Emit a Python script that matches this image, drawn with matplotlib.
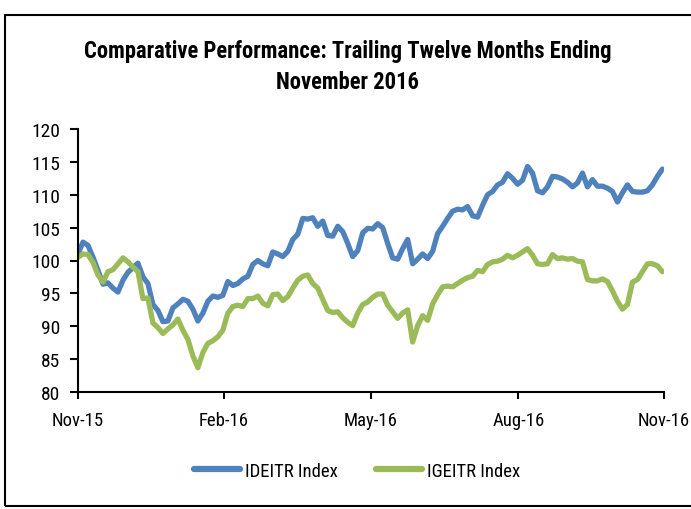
import matplotlib
matplotlib.use("Agg")
import matplotlib.pyplot as plt
from matplotlib import font_manager as fm
from matplotlib.patches import Rectangle
import pandas as pd

# ---------------- data ----------------
title = "Comparative Performance: Trailing Twelve Months Ending\nNovember 2016"
series_names = ["IDEITR Index", "IGEITR Index"]
start_date = "2015-11-30"
end_date = "2016-11-29"
tick_dates = ["2015-11-30", "2016-02-29", "2016-05-31", "2016-08-31", "2016-11-30"]
tick_labels = ["Nov-15", "Feb-16", "May-16", "Aug-16", "Nov-16"]
y_ticks = [80, 85, 90, 95, 100, 105, 110, 115, 120]

ideitr = [
    101.0, 102.8, 102.3, 100.5, 98.5, 96.4, 96.6, 95.8, 95.2, 97.0,
    98.2, 98.9, 99.6, 97.5, 96.5, 93.3, 92.4, 90.7, 90.8, 92.8,
    93.4, 94.1, 93.8, 92.6, 90.8, 92.0, 93.8, 94.6, 94.4, 94.7,
    96.8, 96.2, 96.5, 97.2, 97.6, 99.4, 100.0, 99.5, 99.2, 101.3,
    101.0, 100.6, 101.4, 103.2, 104.0, 106.4, 106.3, 106.5, 105.2, 106.0,
    103.8, 103.7, 105.2, 104.4, 102.6, 100.6, 101.5, 104.2, 104.9, 104.8,
    105.6, 105.0, 102.6, 100.4, 100.2, 101.8, 103.2, 99.5, 100.2, 101.0,
    100.3, 101.4, 104.1, 105.2, 106.4, 107.5, 107.8, 107.7, 108.2, 106.8,
    106.6, 108.4, 110.0, 110.5, 111.5, 111.9, 113.2, 112.5, 111.6, 112.2,
    114.3, 113.3, 110.6, 110.3, 111.2, 112.8, 112.7, 112.4, 111.9, 111.2,
    111.8, 113.3, 111.2, 112.3, 111.3, 111.3, 111.0, 110.5, 108.9, 110.3,
    111.5, 110.5, 110.4, 110.4, 110.6, 111.5, 112.8, 113.9,
]

igeitr = [
    100.5, 101.0, 100.9, 99.7, 97.8, 96.7, 98.3, 98.6, 99.5, 100.4,
    99.8, 99.0, 98.3, 94.2, 94.3, 90.5, 89.8, 88.9, 89.6, 90.2,
    91.1, 89.4, 88.0, 85.5, 83.7, 86.0, 87.4, 87.8, 88.4, 89.4,
    92.0, 93.0, 93.2, 93.0, 94.2, 94.2, 94.6, 93.5, 93.1, 94.8,
    94.9, 93.9, 94.5, 95.8, 97.0, 97.6, 97.8, 96.5, 95.8, 94.1,
    92.4, 92.1, 92.2, 91.3, 90.6, 90.1, 92.0, 93.3, 93.7, 94.4,
    94.9, 94.9, 93.2, 92.2, 91.2, 92.0, 92.5, 87.6, 90.1, 91.6,
    90.9, 93.4, 94.8, 96.0, 96.1, 96.0, 96.5, 97.0, 97.4, 97.6,
    98.5, 98.3, 99.4, 99.8, 99.9, 100.2, 100.8, 100.4, 100.8, 101.3,
    101.8, 100.8, 99.5, 99.4, 99.5, 100.9, 100.3, 100.4, 100.2, 100.3,
    99.9, 99.8, 97.1, 96.9, 96.9, 97.2, 96.8, 95.4, 93.8, 92.6,
    93.3, 96.7, 97.1, 98.3, 99.5, 99.5, 99.2, 98.3,
]

# ---------------- fonts ----------------
names = {f.name for f in fm.fontManager.ttflist}
FONT = None
for cand in ["Liberation Sans Narrow", "Roboto Condensed", "Open Sans Condensed",
             "Arial Narrow", "Liberation Sans", "Roboto"]:
    if cand in names:
        FONT = cand
        break
if FONT is None:
    FONT = "DejaVu Sans"
plt.rcParams["font.family"] = [FONT, "DejaVu Sans"]

dates = pd.date_range(start_date, end_date, periods=len(ideitr))

fig = plt.figure(figsize=(6.91, 5.10), dpi=100)
ax = fig.add_axes([78 / 691, 1 - 393 / 510, (664 - 78) / 691, (393 - 130) / 510])

blue = "#4F81BD"
green = "#9BBB59"
ax.plot(dates, ideitr, color=blue, lw=3.8, solid_capstyle="round",
        solid_joinstyle="round", label=series_names[0])
ax.plot(dates, igeitr, color=green, lw=3.8, solid_capstyle="round",
        solid_joinstyle="round", label=series_names[1])

ax.set_xlim(pd.Timestamp(tick_dates[0]), pd.Timestamp(tick_dates[-1]))
ax.set_ylim(80, 120)
ax.set_yticks(y_ticks)
ax.set_yticklabels([str(v) for v in y_ticks])
ax.set_xticks([pd.Timestamp(d) for d in tick_dates])
ax.set_xticklabels(tick_labels)

for s in ["top", "right"]:
    ax.spines[s].set_visible(False)
for s in ["left", "bottom"]:
    ax.spines[s].set_linewidth(1.5)
    ax.spines[s].set_color("black")

ax.tick_params(axis="y", direction="out", length=6, width=1.5, pad=7,
               labelsize=14)
ax.tick_params(axis="x", direction="out", length=5, width=1.5, pad=9,
               labelsize=13.5)

fig.text(0.503, 1 - 67 / 510, title, ha="center", va="center",
         fontsize=16.3, fontweight="bold", linespacing=1.4)

leg = fig.legend(loc="center", bbox_to_anchor=(357 / 691, 1 - 472 / 510),
                 ncol=2, frameon=False, fontsize=13.5, handlelength=2.5,
                 columnspacing=2.0, handletextpad=0.25)
for line in leg.get_lines():
    line.set_linewidth(4.5)
    line.set_solid_capstyle("round")

fig.patches.append(Rectangle((5 / 691, 3 / 510), 1.2, 1 - 19 / 510,
                             transform=fig.transFigure, fill=False,
                             edgecolor="black", lw=1.5))

fig.savefig("out.png", dpi=100)
